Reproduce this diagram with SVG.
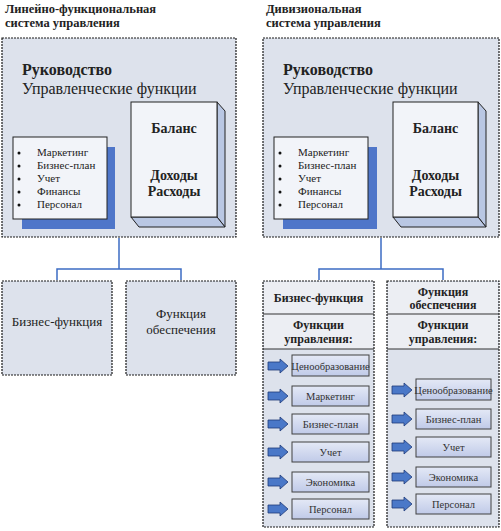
<svg xmlns="http://www.w3.org/2000/svg" width="501" height="531" viewBox="0 0 501 531" font-family="'Liberation Serif', 'DejaVu Serif', serif">
<defs>
<linearGradient id="itemGrad" x1="0" y1="0" x2="0" y2="1">
<stop offset="0" stop-color="#e4e9f6"/>
<stop offset="1" stop-color="#c0cae8"/>
</linearGradient>
<path id="arrow" d="M0,-4 H12 V-7 L20,0 L12,7 V4 H0 Z"/>
</defs>
<style>
text{font-family:'Liberation Serif','DejaVu Serif',serif;fill:#222;}
.title{font-size:12.5px;font-weight:bold;}
.dash{fill:#dde2ec;stroke:#1a1a1a;stroke-width:1.2;stroke-dasharray:2,1;}
.hdr{fill:#eceef3;}
.sep{stroke:#333;stroke-width:1;}
.conn{fill:none;stroke:#3c6cc4;stroke-width:1.5;}
.big{font-size:16px;}
.b{font-weight:bold;}
.list{font-size:11px;}
.face{fill:#f2f4f9;stroke:#222;stroke-width:1;}
.side{fill:#b9c7e3;stroke:#222;stroke-width:1;}
.panel{fill:#f2f4f9;stroke:#222;stroke-width:1;}
.shadow{fill:#4f76c9;}
.item{fill:url(#itemGrad);stroke:#404040;stroke-width:1;}
.itxt{font-size:10.5px;fill:#333;text-anchor:middle;}
.arr{fill:#4a78c8;stroke:#1e3a78;stroke-width:0.8;}
.mid{text-anchor:middle;}
.hd{font-size:12px;font-weight:bold;text-anchor:middle;}
.book{font-size:14px;font-weight:bold;text-anchor:middle;}
</style>

<g id="title-left">
<text class="title" x="5" y="13">Линейно-функциональная</text>
<text class="title" x="5" y="27">система управления</text>
</g>
<g id="title-right">
<text class="title" x="266" y="13">Дивизиональная</text>
<text class="title" x="266" y="27">система управления</text>
</g>

<g id="connectors">
<path class="conn" d="M119,238 V269 M57,280 V269 H181 V280"/>
<path class="conn" d="M381,238 V269 M319,280 V269 H443 V280"/>
</g>

<g id="main-left">
<rect class="dash" x="2" y="38" width="234" height="199"/>
<text class="big b" x="22" y="75">Руководство</text>
<text class="big" x="22" y="94">Управленческие функции</text>
<rect class="shadow" x="22" y="147" width="93" height="82"/>
<rect class="panel" x="13" y="137" width="94" height="82"/>
<g class="list">
<circle cx="19" cy="153" r="1.5" fill="#111"/><text x="37" y="156">Маркетинг</text>
<circle cx="19" cy="166" r="1.5" fill="#111"/><text x="37" y="169">Бизнес-план</text>
<circle cx="19" cy="179" r="1.5" fill="#111"/><text x="37" y="182">Учет</text>
<circle cx="19" cy="192" r="1.5" fill="#111"/><text x="37" y="195">Финансы</text>
<circle cx="19" cy="205" r="1.5" fill="#111"/><text x="37" y="208">Персонал</text>
</g>
<polygon class="side" points="217,102 225,111 225,227 217,217"/>
<polygon class="side" points="131,217 217,217 225,227 139,227"/>
<rect class="face" x="131" y="102" width="86" height="115"/>
<text class="book" x="174" y="133">Баланс</text>
<text class="book" x="174" y="180">Доходы</text>
<text class="book" x="174" y="196">Расходы</text>
</g>

<g id="main-right">
<rect class="dash" x="263" y="38" width="236" height="199"/>
<text class="big b" x="283" y="75">Руководство</text>
<text class="big" x="283" y="94">Управленческие функции</text>
<rect class="shadow" x="283" y="147" width="94" height="82"/>
<rect class="panel" x="274" y="137" width="94" height="82"/>
<g class="list">
<circle cx="280" cy="153" r="1.5" fill="#111"/><text x="298" y="156">Маркетинг</text>
<circle cx="280" cy="166" r="1.5" fill="#111"/><text x="298" y="169">Бизнес-план</text>
<circle cx="280" cy="179" r="1.5" fill="#111"/><text x="298" y="182">Учет</text>
<circle cx="280" cy="192" r="1.5" fill="#111"/><text x="298" y="195">Финансы</text>
<circle cx="280" cy="205" r="1.5" fill="#111"/><text x="298" y="208">Персонал</text>
</g>
<polygon class="side" points="478,102 486,111 486,227 478,217"/>
<polygon class="side" points="393,217 478,217 486,227 401,227"/>
<rect class="face" x="393" y="102" width="85" height="115"/>
<text class="book" x="435.5" y="133">Баланс</text>
<text class="book" x="435.5" y="180">Доходы</text>
<text class="book" x="435.5" y="196">Расходы</text>
</g>

<g id="left-business">
<rect class="dash" x="2" y="281" width="110" height="94"/>
<text class="mid" x="57" y="326" font-size="13">Бизнес-функция</text>
</g>
<g id="left-support">
<rect class="dash" x="126" y="281" width="110" height="94"/>
<text class="mid" x="181" y="318" font-size="13">Функция</text>
<text class="mid" x="181" y="334" font-size="13">обеспечения</text>
</g>

<g id="right-business">
<rect class="dash" x="263" y="281" width="111" height="246"/>
<rect class="hdr" x="264" y="282" width="109" height="67"/>
<line class="sep" x1="263" y1="314" x2="374" y2="314"/>
<line class="sep" x1="263" y1="349" x2="374" y2="349"/>
<text class="hd" x="318.5" y="302">Бизнес-функция</text>
<text class="hd" x="318.5" y="329">Функции</text>
<text class="hd" x="318.5" y="343">управления:</text>
<use href="#arrow" class="arr" x="268" y="366"/>
<rect class="item" x="292" y="355" width="77" height="21"/>
<text class="itxt" x="330.5" y="369.5">Ценообразование</text>
<use href="#arrow" class="arr" x="268" y="396"/>
<rect class="item" x="292" y="386" width="77" height="20"/>
<text class="itxt" x="330.5" y="399.5">Маркетинг</text>
<use href="#arrow" class="arr" x="268" y="424"/>
<rect class="item" x="292" y="414" width="77" height="20"/>
<text class="itxt" x="330.5" y="427.5">Бизнес-план</text>
<use href="#arrow" class="arr" x="268" y="452"/>
<rect class="item" x="292" y="442" width="77" height="20"/>
<text class="itxt" x="330.5" y="455.5">Учет</text>
<use href="#arrow" class="arr" x="268" y="482"/>
<rect class="item" x="292" y="472" width="77" height="20"/>
<text class="itxt" x="330.5" y="485.5">Экономика</text>
<use href="#arrow" class="arr" x="268" y="509"/>
<rect class="item" x="292" y="499" width="77" height="20"/>
<text class="itxt" x="330.5" y="512.5">Персонал</text>
</g>

<g id="right-support">
<rect class="dash" x="387" y="281" width="112" height="246"/>
<rect class="hdr" x="388" y="282" width="110" height="67"/>
<line class="sep" x1="387" y1="314" x2="499" y2="314"/>
<line class="sep" x1="387" y1="349" x2="499" y2="349"/>
<text class="hd" x="443" y="296">Функция</text>
<text class="hd" x="443" y="309">обеспечения</text>
<text class="hd" x="443" y="329">Функции</text>
<text class="hd" x="443" y="343">управления:</text>
<use href="#arrow" class="arr" x="392" y="390"/>
<rect class="item" x="416" y="379" width="75" height="21"/>
<text class="itxt" x="453.5" y="393.5">Ценообразование</text>
<use href="#arrow" class="arr" x="392" y="419"/>
<rect class="item" x="416" y="409" width="75" height="20"/>
<text class="itxt" x="453.5" y="422.5">Бизнес-план</text>
<use href="#arrow" class="arr" x="392" y="447"/>
<rect class="item" x="416" y="437" width="75" height="20"/>
<text class="itxt" x="453.5" y="450.5">Учет</text>
<use href="#arrow" class="arr" x="392" y="477"/>
<rect class="item" x="416" y="467" width="75" height="20"/>
<text class="itxt" x="453.5" y="480.5">Экономика</text>
<use href="#arrow" class="arr" x="392" y="504"/>
<rect class="item" x="416" y="494" width="75" height="20"/>
<text class="itxt" x="453.5" y="507.5">Персонал</text>
</g>
</svg>
